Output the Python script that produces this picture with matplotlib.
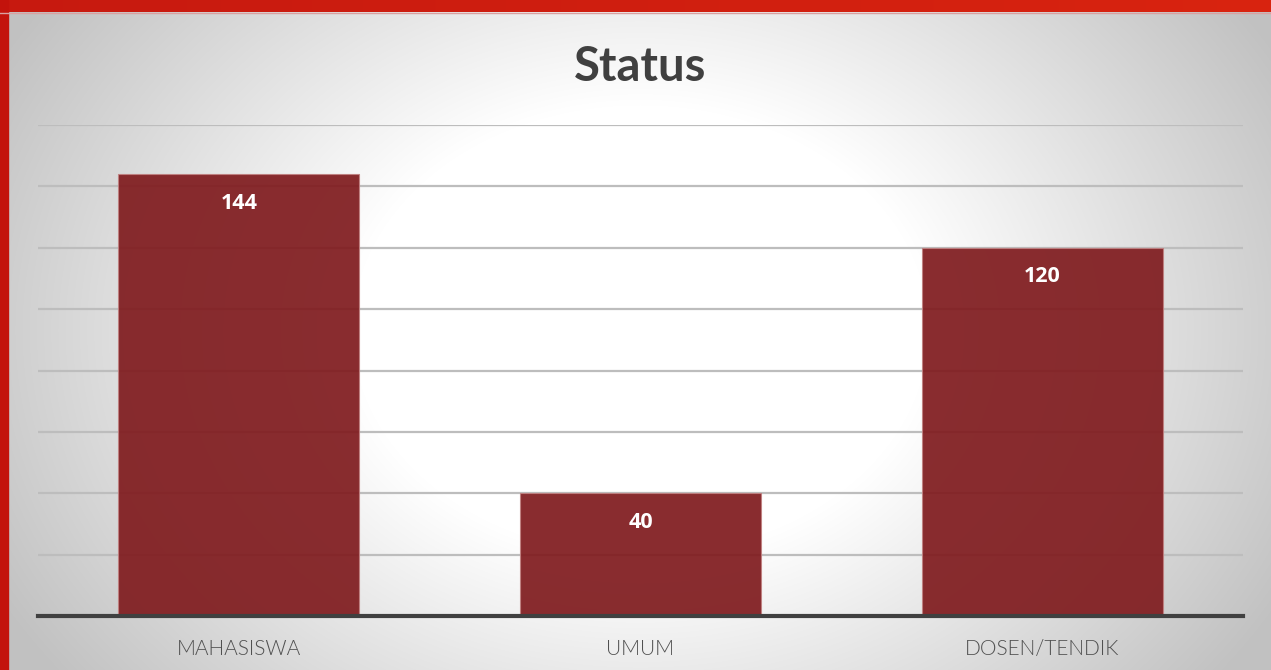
import numpy as np
import matplotlib.pyplot as plt

categories = ["MAHASISWA", "UMUM", "DOSEN/TENDIK"]
values = [144, 40, 120]
y_ticks = [0, 20, 40, 60, 80, 100, 120, 140, 160]

W, H = 1271, 670
fig = plt.figure(figsize=(W / 100, H / 100), dpi=100)

# background: red frame + radial grey-to-white gradient
bg = fig.add_axes([0, 0, 1, 1])
bg.set_xlim(0, W)
bg.set_ylim(H, 0)
bg.axis("off")
xx, yy = np.meshgrid(np.arange(W), np.arange(H))
r = np.sqrt(((xx - 640) / 640.0) ** 2 + ((yy - 330) / 500.0) ** 2)
v = 1 - 0.35 * np.clip(r - 0.45, 0, None)
v = np.clip(v, 0.76, 1)
img = np.dstack([v, v, v])
bg.imshow(img, extent=(0, W, H, 0), aspect="auto", zorder=0)
grad = np.linspace(0, 1, W)
top = np.zeros((1, W, 3))
top[0, :, 0] = 0.78 + 0.07 * grad
top[0, :, 1] = 0.10 + 0.04 * grad
top[0, :, 2] = 0.06
bg.imshow(top, extent=(0, W, 12, 0), aspect="auto", zorder=1)
bg.add_patch(plt.Rectangle((0, 0), 8, H, color="#C3130C", zorder=2))
bg.axhline(12.5, color="#D9A0A0", lw=1, zorder=2)

ax = fig.add_axes([38 / W, 1 - 616 / H, (1243 - 38) / W, (616 - 125) / H])
ax.patch.set_alpha(0)
x = np.arange(len(categories))
bars = ax.bar(x, values, width=0.6, color="#801C1F", alpha=0.93,
              edgecolor="#C08080", linewidth=0.8, zorder=3)
ax.set_xlim(-0.5, len(categories) - 0.5)
ax.set_ylim(0, 160)
ax.set_yticks(y_ticks)
ax.yaxis.grid(True, color="#BDBDBD", lw=1.6, zorder=1)
ax.set_axisbelow(True)
ax.tick_params(axis="y", left=False, labelleft=False)
ax.tick_params(axis="x", bottom=False, pad=13)
for s in ["top", "right", "left"]:
    ax.spines[s].set_visible(False)
ax.spines["bottom"].set_color("#404040")
ax.spines["bottom"].set_linewidth(3)
ax.spines["bottom"].set_zorder(4)
ax.set_xticks(x)
ax.set_xticklabels(categories, fontsize=15, color="#505050", family="Lato",
                   fontweight=300)

for b, val in zip(bars, values):
    ax.annotate(str(val), (b.get_x() + b.get_width() / 2, val),
                xytext=(0, -29), textcoords="offset pixels",
                ha="center", va="center", color="white", fontsize=15.5,
                fontweight="bold", family="Open Sans", zorder=5)

fig.text(640 / W, 1 - 67 / H, "Status", ha="center", va="center",
         fontsize=34, fontweight="bold", color="#404040", family="Lato")

fig.savefig("out.png", dpi=100)
